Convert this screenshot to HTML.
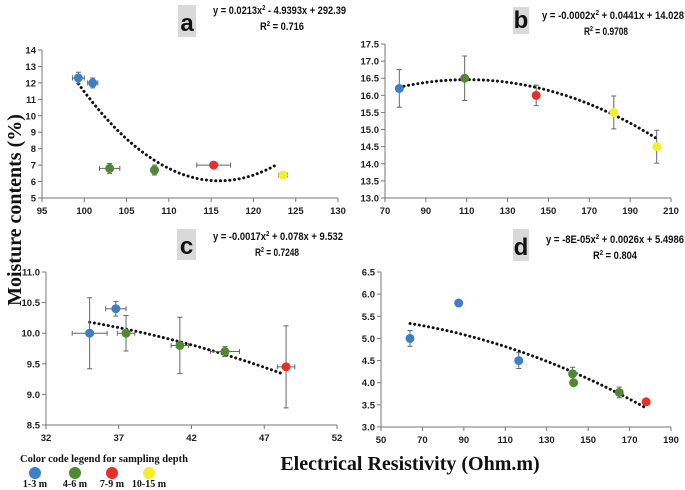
<!DOCTYPE html>
<html><head><meta charset="utf-8"><style>
body{margin:0;background:#fff;}
svg{display:block;font-family:"Liberation Sans",Arial,sans-serif;}
.tk{font-size:9.5px;font-weight:bold;fill:#222;}
.eq{font-size:11px;font-weight:bold;fill:#111;}
.ser{font-family:"Liberation Serif",serif;font-weight:bold;fill:#111;}
</style></head><body>
<svg id="c" width="685" height="490">
<text class="ser" font-size="20" transform="translate(21,210) rotate(-90)" text-anchor="middle">Moisture contents (%)</text>
<text class="ser" font-size="20" x="410" y="470" text-anchor="middle">Electrical Resistivity (Ohm.m)</text>
<text class="ser" font-size="10.5" x="20" y="462">Color code legend for sampling depth</text>
</svg>
<script>
const COLORS={b:'#3b7fc8',g:'#4f8a33',r:'#e8302a',y:'#f3ef2b'};
// panel a
const aX=[99.3,101,103,108.3,115.3,123.5];
const aY=[12.3,12.0,6.8,6.7,7.0,6.4];
const aXe=[0.7,0.6,1.2,0.4,2.0,0.5];
const aYe=[0.35,0.3,0.3,0.3,0,0];
const aC=['b','b','g','g','r','y'];
const aCoef=[0.0213,-4.9393,292.39];
// panel b
const bX=[77,109,144,182,203];
const bY=[16.2,16.5,16.0,15.5,14.5];
const bXe=[0,0,0,0,0];
const bYe=[0.55,0.65,0.3,0.48,0.48];
const bC=['b','g','r','y','y'];
const bCoef=[-0.0002,0.0441,14.028];
// panel c
const cX=[35,36.8,37.5,41.2,44.3,48.5];
const cY=[10.0,10.4,10.0,9.8,9.7,9.45];
const cXe=[1.2,0.7,0.6,0.6,1.0,0.6];
const cYe=[0.58,0.12,0.29,0.46,0.08,0.67];
const cC=['b','b','g','g','g','r'];
const cCoef=[-0.0017,0.078,9.532];
// panel d
const dX=[64,87.5,116.5,142.5,143,165,178];
const dY=[5.0,5.8,4.5,4.2,4.0,3.78,3.57];
const dXe=[0,0,0,0,0,0,0];
const dYe=[0.18,0,0.18,0.15,0,0.12,0];
const dC=['b','b','b','g','g','g','r'];
const dCoef=[-0.00008,0.0026,5.4986];
const aXT=['95','100','105','110','115','120','125','130'], aYT=['5','6','7','8','9','10','11','12','13','14'];
const bXT=['70','90','110','130','150','170','190','210'], bYT=['13.0','13.5','14.0','14.5','15.0','15.5','16.0','16.5','17.0','17.5'];
const cXT=['32','37','42','47','52'], cYT=['8.5','9.0','9.5','10.0','10.5','11.0'];
const dXT=['50','70','90','110','130','150','170','190'], dYT=['3.0','3.5','4.0','4.5','5.0','5.5','6.0','6.5'];

const svg=document.getElementById('c');const NS='http://www.w3.org/2000/svg';
function mk(t,a,p){const e=document.createElementNS(NS,t);for(const k in a)e.setAttribute(k,a[k]);(p||svg).appendChild(e);return e;}
function panel(id,P,X,Y,Xe,Ye,C,coef,xt,yt,tr,lab,eq,r2){
 const g=mk('g',{});
 
 
 const x0=+xt[0],x1=+xt[xt.length-1],y0=+yt[0],y1=+yt[yt.length-1];
 const sx=v=>P.l+(v-x0)/(x1-x0)*(P.r-P.l), sy=v=>P.b-(v-y0)/(y1-y0)*(P.b-P.t);
 mk('line',{x1:P.l,y1:P.t,x2:P.l,y2:P.b,stroke:'#777','stroke-width':1},g);
 mk('line',{x1:P.l,y1:P.b,x2:P.r,y2:P.b,stroke:'#777','stroke-width':1},g);
 yt.forEach(t=>{const y=sy(+t);mk('line',{x1:P.l-4,y1:y,x2:P.l,y2:y,stroke:'#777'},g);
  const e=mk('text',{x:P.l-6,y:y+3.5,'text-anchor':'end',class:'tk'},g);e.textContent=t;
  
  });
 xt.forEach(t=>{const x=sx(+t);mk('line',{x1:x,y1:P.b,x2:x,y2:P.b+4,stroke:'#777'},g);
  const e=mk('text',{x:x,y:P.b+16,'text-anchor':'middle',class:'tk'},g);e.textContent=t;
  
  });
 const xa=tr[0],xb=tr[1];let d='';
 for(let i=0;i<=60;i++){const v=xa+(xb-xa)*i/60;const yv=coef[0]*v*v+coef[1]*v+coef[2];d+=(i?'L':'M')+sx(v).toFixed(1)+','+sy(yv).toFixed(1);}
 const tl=mk('path',{d:d,fill:'none',stroke:'#111','stroke-width':3,'stroke-dasharray':'0.1 4.6','stroke-linecap':'round'},g);
 
 
 X.forEach((v,i)=>{const x=sx(v),y=sy(Y[i]);
  if(Ye[i]>0){const t=sy(Y[i]+Ye[i]),b=sy(Y[i]-Ye[i]);
   mk('path',{d:`M${x},${t}V${b}M${x-2.5},${t}h5M${x-2.5},${b}h5`,stroke:'#666','stroke-width':1,fill:'none'},g);}
  if(Xe[i]>0){const l=sx(v-Xe[i]),r=sx(v+Xe[i]);
   mk('path',{d:`M${l},${y}H${r}M${l},${y-2.5}v5M${r},${y-2.5}v5`,stroke:'#666','stroke-width':1,fill:'none'},g);}
  const c=mk('circle',{cx:x,cy:y,r:4.5,fill:COLORS[C[i]]},g);
  
  });
 mk('rect',{x:lab.x,y:lab.y,width:lab.w,height:lab.h,fill:'#d9d9d9'},g);
 const L=mk('text',{x:lab.x+lab.w/2,y:lab.y+lab.h-6,'text-anchor':'middle','font-size':24,'font-weight':'bold',fill:'#111'},g);L.textContent=id;
 
 
 const E=mk('text',{x:eq.x,y:eq.y,class:'eq',textLength:eq.w,lengthAdjust:'spacingAndGlyphs'},g);E.innerHTML=eq.t;
 
 
 const R=mk('text',{x:eq.rx,y:eq.y+16,class:'eq',textLength:44,lengthAdjust:'spacingAndGlyphs'},g);R.innerHTML='R<tspan font-size="7" dy="-4">2</tspan><tspan dy="4"> = '+r2+'</tspan>';
 
 
}
panel('a',{l:42,r:338,t:50,b:198},aX,aY,aXe,aYe,aC,aCoef,aXT,aYT,[99.3,122.7],{x:178,y:5,w:18,h:32},{x:213,w:133,rx:260,y:14,t:'y = 0.0213x<tspan font-size="7" dy="-4">2</tspan><tspan dy="4"> - 4.9393x + 292.39</tspan>'},'0.716');
panel('b',{l:385,r:671,t:44,b:198},bX,bY,bXe,bYe,bC,bCoef,bXT,bYT,[77,203],{x:513,y:7,w:16,h:27},{x:542,w:142,rx:584,y:19,t:'y = -0.0002x<tspan font-size="7" dy="-4">2</tspan><tspan dy="4"> + 0.0441x + 14.028</tspan>'},'0.9708');
panel('c',{l:46,r:337,t:272,b:425},cX,cY,cXe,cYe,cC,cCoef,cXT,cYT,[35,48.3],{x:177,y:229,w:19,h:31},{x:213,w:130,rx:255,y:240,t:'y = -0.0017x<tspan font-size="7" dy="-4">2</tspan><tspan dy="4"> + 0.078x + 9.532</tspan>'},'0.7248');
panel('d',{l:381,r:671,t:272,b:427},dX,dY,dXe,dYe,dC,dCoef,dXT,dYT,[64,177],{x:513,y:229,w:16,h:32},{x:546,w:138,rx:593,y:243,t:'y = -8E-05x<tspan font-size="7" dy="-4">2</tspan><tspan dy="4"> + 0.0026x + 5.4986</tspan>'},'0.804');
const legLabels=['1-3 m','4-6 m','7-9 m','10-15 m'];
const legKeys=['b','g','r','y'];
const legX=[35,75,112,149];
legLabels.forEach((t,i)=>{
 const c=mk('circle',{cx:legX[i],cy:473,r:6,fill:COLORS[legKeys[i]]});
 
 
 const e=mk('text',{x:legX[i],y:487,'text-anchor':'middle',class:'ser','font-size':10});e.textContent=t;
 
 
});
</script>
</body></html>
